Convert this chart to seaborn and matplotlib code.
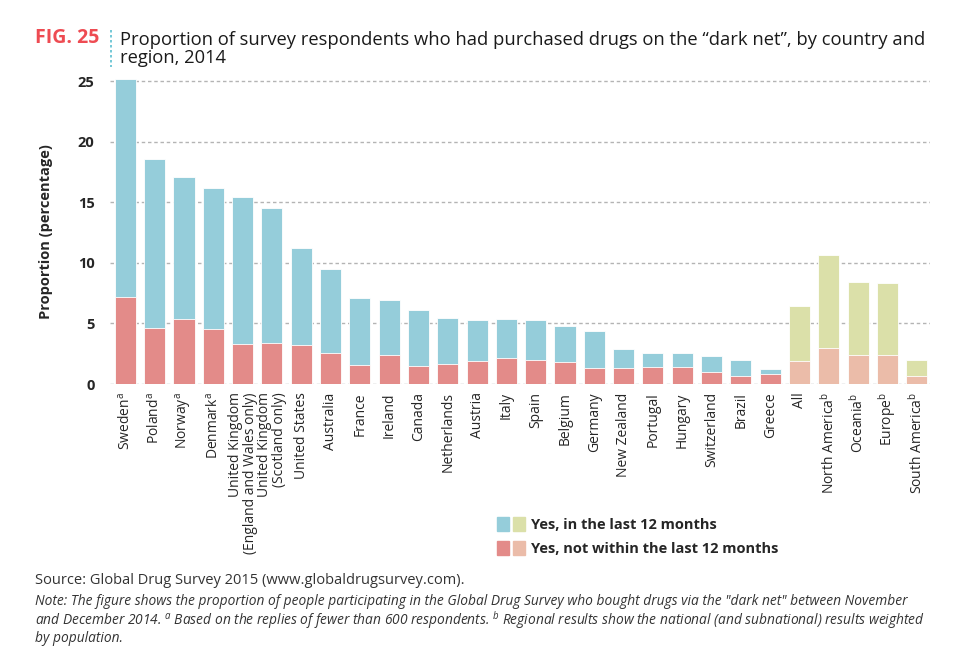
import numpy as np
import pandas as pd
import seaborn as sns
import matplotlib.pyplot as plt
from matplotlib.patches import Patch
from matplotlib.legend_handler import HandlerTuple

# data
labels = ['Sweden$^{a}$', 'Poland$^{a}$', 'Norway$^{a}$', 'Denmark$^{a}$',
          'United Kingdom\n(England and Wales only)', 'United Kingdom\n(Scotland only)',
          'United States', 'Australia', 'France', 'Ireland', 'Canada', 'Netherlands',
          'Austria', 'Italy', 'Spain', 'Belgium', 'Germany', 'New Zealand', 'Portugal',
          'Hungary', 'Switzerland', 'Brazil', 'Greece',
          'All', 'North America$^{b}$', 'Oceania$^{b}$', 'Europe$^{b}$', 'South America$^{b}$']
total = [25.2, 18.6, 17.1, 16.2, 15.45, 14.5, 11.2, 9.5, 7.07, 6.9, 6.08, 5.47,
         5.28, 5.36, 5.28, 4.79, 4.37, 2.89, 2.58, 2.58, 2.28, 1.95, 1.21,
         6.4, 10.67, 8.44, 8.36, 1.98]
not_last_12 = [7.18, 4.65, 5.36, 4.56, 3.3, 3.36, 3.19, 2.58, 1.57, 2.37, 1.51, 1.68,
               1.9, 2.17, 1.98, 1.79, 1.29, 1.29, 1.37, 1.37, 0.96, 0.66, 0.8,
               1.9, 2.97, 2.37, 2.37, 0.66]
is_region = [False] * 23 + [True] * 5

BLUE, RED = '#95CDDA', '#E38B89'
GREEN, PEACH = '#DBE0A9', '#EBBCA9'

df = pd.DataFrame({'label': labels, 'total': total, 'old': not_last_12})
top_colors = [GREEN if r else BLUE for r in is_region]
bot_colors = [PEACH if r else RED for r in is_region]

sns.set_style('white')
plt.rcParams['font.family'] = ['Open Sans', 'DejaVu Sans']
plt.rcParams['mathtext.default'] = 'regular'

fig = plt.figure(figsize=(9.72, 6.56), dpi=100)
ax = fig.add_axes([0.113, 0.4146, 0.844, 0.4656])

sns.barplot(data=df, x='label', y='total', hue='label', palette=top_colors, saturation=1,
            legend=False, width=0.72, edgecolor='white', linewidth=0.6, ax=ax, zorder=3)
sns.barplot(data=df, x='label', y='old', hue='label', palette=bot_colors, saturation=1,
            legend=False, width=0.72, edgecolor='white', linewidth=0.6, ax=ax, zorder=3)

ax.set_xlim(-0.53, 27.46)
ax.set_ylim(0, 25.2)
ax.set_yticks([0, 5, 10, 15, 20, 25])
ax.tick_params(axis='y', labelsize=10.5, length=0, pad=11)
for t in ax.get_yticklabels():
    t.set_fontweight('bold')
ax.tick_params(axis='x', length=0, pad=6)
ax.set_xticks(range(len(labels)))
ax.set_xticklabels(labels, rotation=90, fontsize=10, va='top', ha='center')
for t in ax.get_xticklabels():
    t.set_multialignment('right')
    t.set_linespacing(1.0)
for y in [0, 5, 10, 15, 20, 25]:
    ax.axhline(y, color='#B4B4B4', lw=1.0, ls=(0, (2.5, 2)), zorder=1)
sns.despine(ax=ax, left=True, bottom=True)
ax.set_xlabel('')
ax.set_ylabel('Proportion (percentage)', fontsize=10.5, fontweight='bold', labelpad=18)

# title
fig.text(35 / 972, 1 - 38 / 656, 'FIG. 25', color='#EE4B52', fontsize=14,
         fontweight='bold', va='center', ha='left')
fig.add_artist(plt.Line2D([111 / 972, 111 / 972], [1 - 30 / 656, 1 - 67 / 656],
                          color='#5BBFD0', lw=1.2, ls=(0, (1.5, 1.5))))
fig.text(120 / 972, 1 - 49 / 656,
         'Proportion of survey respondents who had purchased drugs on the \u201cdark net\u201d, by country and\nregion, 2014',
         color='#1A1A1A', fontsize=13.2, va='center', ha='left', linespacing=0.95)

# legend
h1 = (Patch(color=BLUE), Patch(color=GREEN))
h2 = (Patch(color=RED), Patch(color=PEACH))
fig.legend([h1, h2], ['Yes, in the last 12 months', 'Yes, not within the last 12 months'],
           handler_map={tuple: HandlerTuple(ndivide=None, pad=0.25)},
           loc='upper left', bbox_to_anchor=(484 / 972, 1 - 504 / 656), frameon=False,
           prop={'weight': 'bold', 'size': 10.5}, handlelength=1.9, handleheight=1.1,
           handletextpad=0.45, labelspacing=0.6)

fig.text(35 / 972, 1 - 580 / 656, 'Source: Global Drug Survey 2015 (www.globaldrugsurvey.com).',
         fontsize=10.5, color='#333333', va='center')
fig.text(35 / 972, 1 - 620 / 656,
         'Note: The figure shows the proportion of people participating in the Global Drug Survey who bought drugs via the "dark net" between November\n'
         'and December 2014. $^{a}$ Based on the replies of fewer than 600 respondents. $^{b}$ Regional results show the national (and subnational) results weighted\n'
         'by population.',
         fontsize=9.9, style='italic', color='#333333', va='center', linespacing=1.02)

fig.savefig('out.png', dpi=100)
